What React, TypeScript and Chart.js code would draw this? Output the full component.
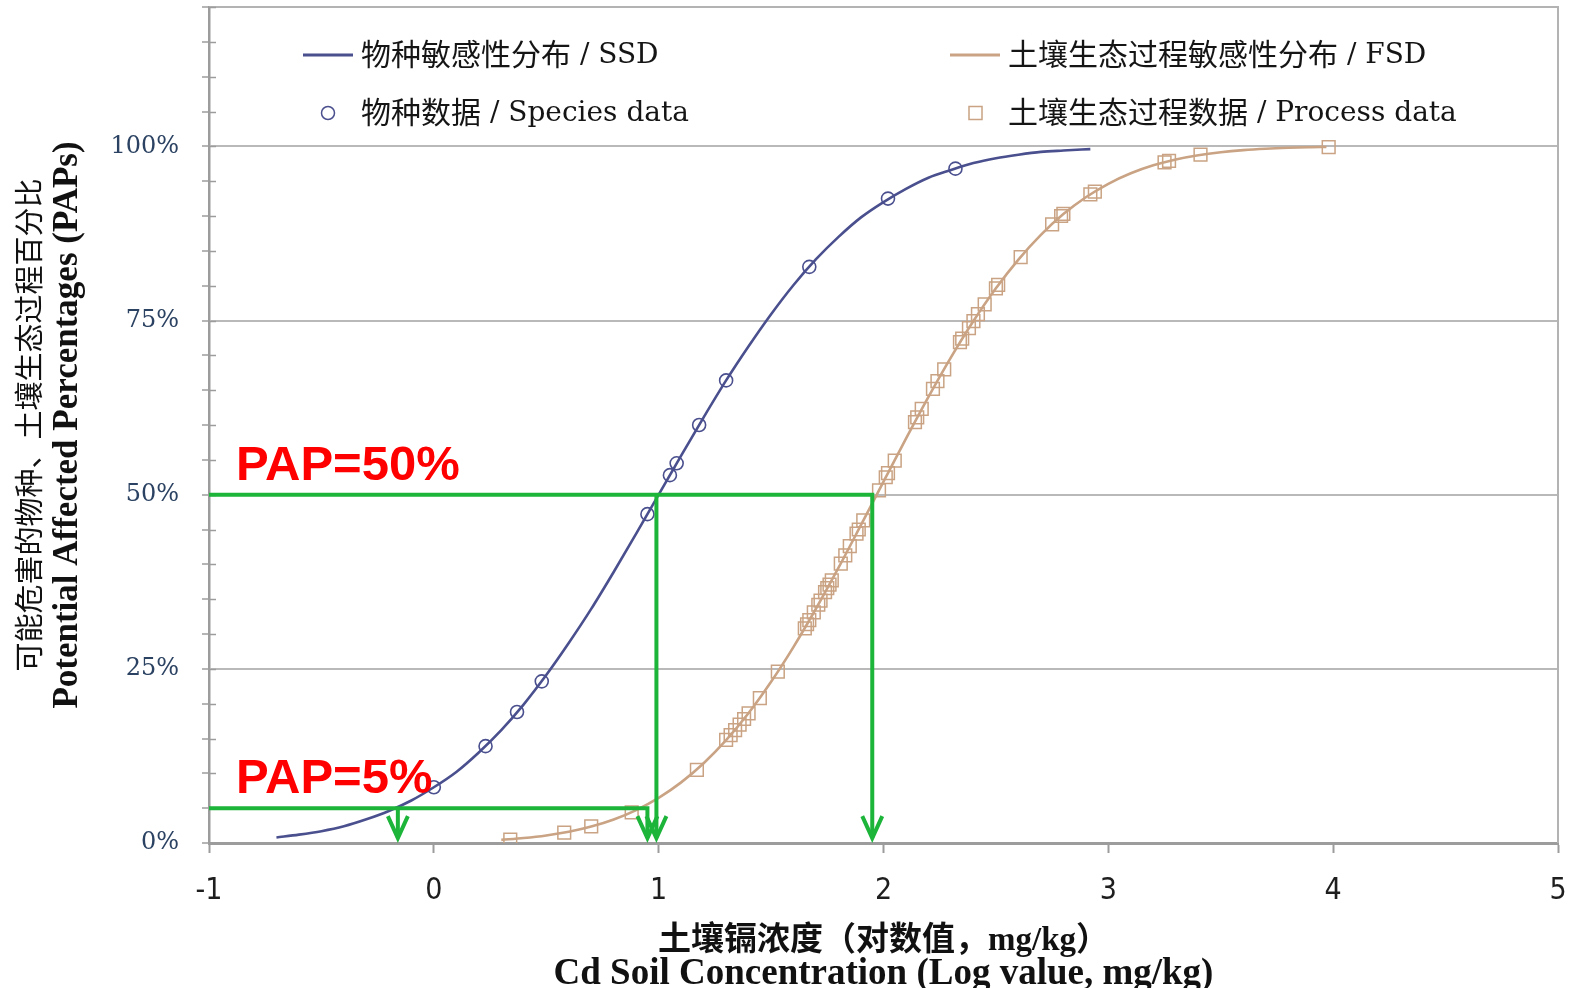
import React, { useEffect, useRef } from "react";
import { Chart, registerables } from "chart.js";

Chart.register(...registerables);

// ---------- data ----------
const ssdCurveX = [-0.7, -0.6, -0.5, -0.4, -0.3, -0.2, -0.1, 0, 0.1, 0.2, 0.3, 0.4, 0.5, 0.6, 0.7, 0.8, 0.9, 1.0, 1.1, 1.2, 1.3, 1.4, 1.5, 1.6, 1.7, 1.8, 1.9, 2.0, 2.1, 2.2, 2.3, 2.4, 2.5, 2.6, 2.7, 2.8, 2.92];
const ssdCurveY = [0.8, 1.2, 1.7, 2.4, 3.4, 4.6, 6.1, 8.0, 10.2, 13.0, 16.2, 19.9, 24.1, 28.7, 33.6, 38.9, 44.4, 50.0, 55.6, 61.1, 66.4, 71.3, 75.9, 80.1, 83.8, 87.0, 89.8, 92.0, 93.9, 95.5, 96.6, 97.6, 98.3, 98.8, 99.2, 99.4, 99.6];

const fsdCurveX = [0.3, 0.4, 0.5, 0.6, 0.7, 0.8, 0.9, 1.0, 1.1, 1.2, 1.3, 1.4, 1.5, 1.6, 1.7, 1.8, 1.9, 2.0, 2.1, 2.2, 2.3, 2.4, 2.5, 2.6, 2.7, 2.8, 2.9, 3.0, 3.1, 3.2, 3.3, 3.4, 3.5, 3.6, 3.7, 3.8, 3.9, 3.97];
const fsdCurveY = [0.45, 0.71, 1.08, 1.61, 2.36, 3.38, 4.73, 6.48, 8.7, 11.45, 14.76, 18.65, 23.14, 28.16, 33.66, 39.52, 45.66, 51.87, 58.04, 64.03, 69.7, 74.92, 79.62, 83.75, 87.3, 90.27, 92.69, 94.62, 96.13, 97.27, 98.12, 98.73, 99.16, 99.46, 99.66, 99.79, 99.87, 99.91];

const speciesX = [0.0, 0.23, 0.37, 0.48, 0.95, 1.05, 1.08, 1.18, 1.3, 1.67, 2.02, 2.32];
const speciesY = [8.0, 13.9, 18.8, 23.2, 47.2, 52.8, 54.5, 60.0, 66.4, 82.7, 92.5, 96.8];

const processX = [0.34, 0.58, 0.7, 0.88, 1.17, 1.3, 1.32, 1.34, 1.36, 1.38, 1.4, 1.45, 1.53, 1.65, 1.66, 1.67, 1.69, 1.71, 1.72, 1.74, 1.75, 1.76, 1.77, 1.81, 1.83, 1.85, 1.88, 1.89, 1.91, 1.98, 2.01, 2.02, 2.05, 2.14, 2.15, 2.17, 2.22, 2.24, 2.27, 2.34, 2.35, 2.38, 2.4, 2.42, 2.45, 2.5, 2.51, 2.61, 2.75, 2.79, 2.8, 2.92, 2.94, 3.25, 3.27, 3.41, 3.98];
const processY = [0.5, 1.5, 2.4, 4.4, 10.5, 14.8, 15.5, 16.2, 17.0, 17.8, 18.6, 20.8, 24.6, 30.8, 31.4, 32.0, 33.1, 34.2, 34.8, 36.0, 36.6, 37.1, 37.7, 40.1, 41.3, 42.6, 44.4, 45.0, 46.3, 50.6, 52.5, 53.1, 54.9, 60.4, 61.1, 62.3, 65.2, 66.3, 68.0, 71.9, 72.4, 73.9, 74.9, 75.9, 77.3, 79.6, 80.1, 84.1, 88.8, 90.0, 90.3, 93.1, 93.5, 97.7, 97.9, 98.8, 99.9];

// annotation values
const papLevels = [5, 50]; // PAP=5%, PAP=50%
const papLabels = ["PAP=5%", "PAP=50%"];
const hcSSD = [-0.16, 0.99]; // SSD concentration at PAP 5%, 50%
const hcFSD = [0.95, 1.95]; // FSD concentration at PAP 5%, 50%
const arrowTip = 0.7;

// axes
const xTickValues = [-1, 0, 1, 2, 3, 4, 5];
const xTickLabels = ["-1", "0", "1", "2", "3", "4", "5"];
const yTickValues = [0, 5, 10, 15, 20, 25, 30, 35, 40, 45, 50, 55, 60, 65, 70, 75, 80, 85, 90, 95, 100, 105, 110, 115, 120];
const yLabelled = [0, 25, 50, 75, 100];

const legendCJK = ["物种敏感性分布", "物种数据", "土壤生态过程敏感性分布", "土壤生态过程数据"];
const legendLatin = [" / SSD", " / Species data", " / FSD", " / Process data"];
const yTitle = ["可能危害的物种、土壤生态过程百分比", "Potential Affected Percentages (PAPs)"];
const xTitle = ["土壤镉浓度（对数值，mg/kg）", "Cd Soil Concentration (Log value, mg/kg)"];

// ---------- styles ----------
const BLUE = "#4a4f8e";
const TAN = "#c9a383";
const GREEN = "#1db43a";
const GRID = "#b9b9b9";
const AXIS = "#9c9c9c";

const pts = (xs: number[], ys: number[]) => xs.map((x, i) => ({ x, y: ys[i] }));

const decorPlugin = {
  id: "decor",
  beforeDatasetsDraw(chart: any) {
    const { ctx, chartArea: a, scales } = chart;
    ctx.save();
    // frame top & right
    ctx.strokeStyle = "#b3b3b3";
    ctx.lineWidth = 2;
    ctx.beginPath();
    ctx.moveTo(a.left, a.top);
    ctx.lineTo(a.right, a.top);
    ctx.lineTo(a.right, a.bottom);
    ctx.stroke();
    // inner part of y tick marks
    ctx.strokeStyle = AXIS;
    ctx.lineWidth = 1.5;
    for (const v of yTickValues) {
      const py = Math.round(scales.y.getPixelForValue(v)) + 0.5;
      ctx.beginPath();
      ctx.moveTo(a.left, py);
      ctx.lineTo(a.left + 7, py);
      ctx.stroke();
    }
    ctx.restore();
  },
  afterDatasetsDraw(chart: any) {
    const { ctx, scales } = chart;
    const xs = scales.x;
    const ys = scales.y;
    ctx.save();
    // arrow heads
    ctx.strokeStyle = GREEN;
    ctx.lineWidth = 4;
    ctx.lineJoin = "miter";
    const tips = [hcSSD[0], hcFSD[0], hcSSD[1], hcFSD[1]];
    for (const t of tips) {
      const px = xs.getPixelForValue(t);
      const py = ys.getPixelForValue(arrowTip);
      ctx.beginPath();
      ctx.moveTo(px - 10, py - 22);
      ctx.lineTo(px, py);
      ctx.lineTo(px + 10, py - 22);
      ctx.stroke();
    }
    // PAP labels
    ctx.fillStyle = "#ff0000";
    ctx.font = 'bold 49px "Liberation Sans", Arial, sans-serif';
    ctx.textAlign = "left";
    ctx.textBaseline = "alphabetic";
    papLevels.forEach((lv, i) => {
      const px = xs.getPixelForValue(-1) + 27;
      const py = ys.getPixelForValue(lv) - 15;
      ctx.fillText(papLabels[i], px, py);
    });
    ctx.restore();
  },
  afterDraw(chart: any) {
    const { ctx, chartArea: a } = chart;
    ctx.save();
    // ---- legend ----
    const cjkFont = '30px "Noto Sans CJK SC", sans-serif';
    const latFont = '28px "DejaVu Serif", serif';
    const cols = [a.left + 94, a.left + 741];
    const rows = [a.top + 48, a.top + 106];
    const kinds = ["line", "circle", "line", "rect"];
    const colors = [BLUE, BLUE, TAN, TAN];
    legendCJK.forEach((lab, i) => {
      const cx = cols[Math.floor(i / 2)];
      const cy = rows[i % 2];
      ctx.strokeStyle = colors[i];
      if (kinds[i] === "line") {
        ctx.lineWidth = 3;
        ctx.beginPath();
        ctx.moveTo(cx, cy);
        ctx.lineTo(cx + 50, cy);
        ctx.stroke();
      } else if (kinds[i] === "circle") {
        ctx.lineWidth = 1.5;
        ctx.beginPath();
        ctx.arc(cx + 25, cy, 6.5, 0, Math.PI * 2);
        ctx.stroke();
      } else {
        ctx.lineWidth = 1.5;
        ctx.strokeRect(cx + 19, cy - 6.5, 13, 13);
      }
      ctx.fillStyle = "#151515";
      ctx.textAlign = "left";
      ctx.textBaseline = "middle";
      ctx.font = cjkFont;
      ctx.fillText(lab, cx + 58, cy - 1);
      const w = ctx.measureText(lab).width;
      ctx.font = latFont;
      ctx.fillText(legendLatin[i], cx + 58 + w, cy + 1);
    });

    // ---- y axis title ----
    const cyMid = (a.top + a.bottom) / 2;
    ctx.fillStyle = "#111";
    ctx.textAlign = "center";
    ctx.textBaseline = "middle";
    ctx.save();
    ctx.translate(32, cyMid);
    ctx.rotate(-Math.PI / 2);
    ctx.font = '29px "Liberation Serif", "Noto Sans CJK SC", serif';
    ctx.fillText(yTitle[0], 0, 0);
    ctx.restore();
    ctx.save();
    ctx.translate(68, cyMid);
    ctx.rotate(-Math.PI / 2);
    ctx.font = 'bold 35px "Liberation Serif", serif';
    ctx.fillText(yTitle[1], 0, 0);
    ctx.restore();

    // ---- x axis title ----
    const cxMid = (a.left + a.right) / 2;
    ctx.font = 'bold 33px "Liberation Serif", "Noto Sans CJK SC", serif';
    ctx.fillText(xTitle[0], cxMid, 941);
    ctx.font = 'bold 37px "Liberation Serif", serif';
    ctx.fillText(xTitle[1], cxMid, 974);
    ctx.restore();
  },
};

export default function App() {
  const ref = useRef<HTMLCanvasElement>(null);

  useEffect(() => {
    const lineDs = (label: string, data: any[], order: number) => ({
      label,
      data,
      showLine: true,
      borderColor: GREEN,
      borderWidth: 4,
      pointRadius: 0,
      fill: false,
      order,
    });
    const chart = new Chart(ref.current as HTMLCanvasElement, {
      type: "scatter",
      data: {
        datasets: [
          lineDs("PAP 50%", [
            { x: -1, y: papLevels[1] },
            { x: hcFSD[1], y: papLevels[1] },
            { x: hcFSD[1], y: arrowTip },
          ], 0),
          lineDs("SSD HC50", [
            { x: hcSSD[1], y: papLevels[1] },
            { x: hcSSD[1], y: arrowTip },
          ], 0),
          lineDs("PAP 5%", [
            { x: -1, y: papLevels[0] },
            { x: hcFSD[0], y: papLevels[0] },
            { x: hcFSD[0], y: arrowTip },
          ], 0),
          lineDs("SSD HC5", [
            { x: hcSSD[0], y: papLevels[0] },
            { x: hcSSD[0], y: arrowTip },
          ], 0),
          {
            label: "物种数据 / Species data",
            data: pts(speciesX, speciesY),
            pointStyle: "circle",
            pointRadius: 6.5,
            pointBorderWidth: 1.6,
            pointBorderColor: BLUE,
            pointBackgroundColor: "rgba(0,0,0,0)",
            showLine: false,
            order: 1,
          },
          {
            label: "土壤生态过程数据 / Process data",
            data: pts(processX, processY),
            pointStyle: "rect",
            pointRadius: 9,
            pointBorderWidth: 1.5,
            pointBorderColor: TAN,
            pointBackgroundColor: "rgba(0,0,0,0)",
            showLine: false,
            order: 1,
          },
          {
            label: "物种敏感性分布 / SSD",
            data: pts(ssdCurveX, ssdCurveY),
            showLine: true,
            borderColor: BLUE,
            borderWidth: 2.6,
            pointRadius: 0,
            cubicInterpolationMode: "monotone",
            fill: false,
            order: 2,
          },
          {
            label: "土壤生态过程敏感性分布 / FSD",
            data: pts(fsdCurveX, fsdCurveY),
            showLine: true,
            borderColor: TAN,
            borderWidth: 2.6,
            pointRadius: 0,
            cubicInterpolationMode: "monotone",
            fill: false,
            order: 2,
          },
        ] as any,
      },
      options: {
        animation: false,
        responsive: true,
        maintainAspectRatio: false,
        layout: { autoPadding: false, padding: { top: 7, right: 16, left: 0, bottom: 0 } },
        plugins: {
          legend: { display: false },
          tooltip: { enabled: false },
          title: { display: false },
        },
        scales: {
          x: {
            type: "linear",
            min: -1,
            max: 5,
            afterBuildTicks: (s: any) => {
              s.ticks = xTickValues.map((v) => ({ value: v }));
            },
            afterFit: (s: any) => {
              s.height = 145;
              s.paddingLeft = 0;
              s.paddingRight = 0;
            },
            ticks: {
              autoSkip: false,
              maxRotation: 0,
              padding: 20,
              color: "#1e1e1e",
              font: { family: '"Liberation Sans Narrow", "DejaVu Sans Condensed", "Liberation Sans", sans-serif', size: 30 },
              callback: (v: any) => {
                const i = xTickValues.indexOf(Number(v));
                return i >= 0 ? xTickLabels[i] : "";
              },
            },
            grid: {
              drawOnChartArea: false,
              drawTicks: true,
              tickLength: 10,
              tickColor: AXIS,
              tickWidth: 2,
            },
            border: { color: AXIS, width: 3 },
          },
          y: {
            type: "linear",
            min: 0,
            max: 120,
            afterBuildTicks: (s: any) => {
              s.ticks = yTickValues.map((v) => ({ value: v }));
            },
            afterFit: (s: any) => {
              s.width = 209;
              s.paddingTop = 0;
              s.paddingBottom = 0;
            },
            ticks: {
              autoSkip: false,
              padding: 23,
              color: "#2b4262",
              font: { family: '"DejaVu Serif", serif', size: 24 },
              callback: (v: any) => (yLabelled.includes(Number(v)) ? `${v}%` : ""),
            },
            grid: {
              color: (c: any) => {
                const v = c.tick ? c.tick.value : -1;
                return v > 0 && v <= 100 && v % 25 === 0 ? GRID : "rgba(0,0,0,0)";
              },
              lineWidth: 2,
              drawTicks: true,
              tickLength: 7,
              tickColor: AXIS,
              tickWidth: 1.5,
            },
            border: { color: AXIS, width: 2.5 },
          },
        },
      } as any,
      plugins: [decorPlugin],
    });
    return () => chart.destroy();
  }, []);

  return (
    <div style={{ position: "fixed", left: 0, top: 0, width: 1574, height: 988, background: "#ffffff" }}>
      <canvas ref={ref} />
    </div>
  );
}
